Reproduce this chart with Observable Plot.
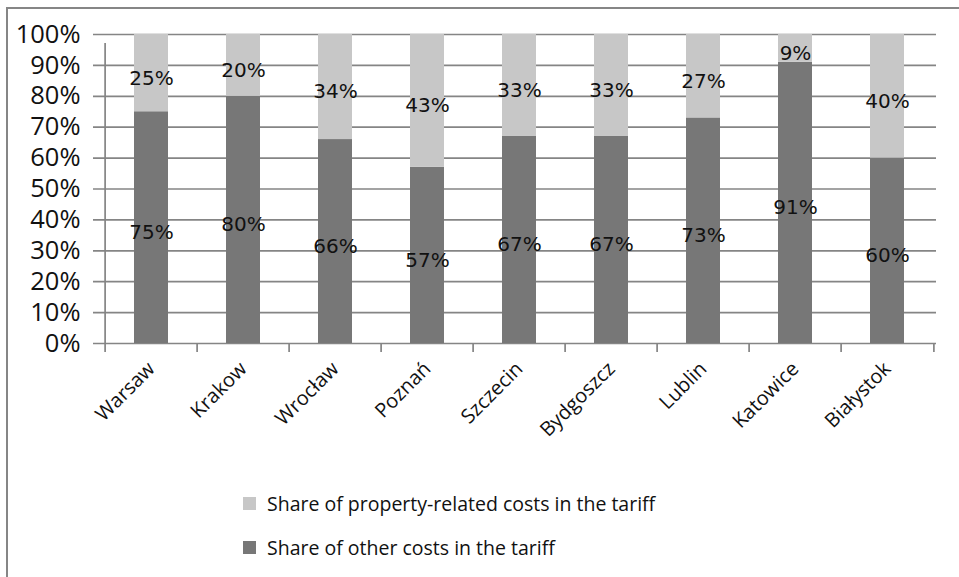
<!DOCTYPE html>
<html>
<head>
<meta charset="utf-8">
<script src="https://cdn.jsdelivr.net/npm/d3@7"></script>
<script src="https://cdn.jsdelivr.net/npm/@observablehq/plot@0.6"></script>
<style>
  body { margin: 0; background: #fff; }
  #page { position: relative; width: 959px; height: 577px; overflow: hidden; font-family: "Open Sans", sans-serif; color: #111; }
  .edge-left { position: absolute; left: 6px; top: 7px; width: 2px; height: 570px; background: #868686; }
  .edge-top { position: absolute; left: 6px; top: 7px; width: 953px; height: 2px; background: #868686; }
  #chart { position: absolute; left: 0; top: 0; }
  #legend { position: absolute; left: 243px; top: 489px; }
  #legend .item { display: flex; align-items: center; height: 28px; margin-bottom: 16px; font-size: 19.5px; white-space: nowrap; }
  #legend .swatch { width: 13px; height: 13px; margin-right: 11px; }
</style>
</head>
<body>
<div id="page">
  <div class="edge-left"></div>
  <div class="edge-top"></div>
  <div id="chart"></div>
  <div id="legend"></div>
</div>
<script>
// Cities and the two cost shares (in percent) of each tariff
const cities = ["Warsaw", "Krakow", "Wrocław", "Poznań", "Szczecin", "Bydgoszcz", "Lublin", "Katowice", "Białystok"];
const otherShare = [75, 80, 66, 57, 67, 67, 73, 91, 60];
const propertyShare = [25, 20, 34, 43, 33, 33, 27, 9, 40];
const yTicks = [0, 10, 20, 30, 40, 50, 60, 70, 80, 90, 100];
const propertyName = "Share of property-related costs in the tariff";
const otherName = "Share of other costs in the tariff";
const seriesColors = { [otherName]: "#777777", [propertyName]: "#c7c7c7" };

// Long table: "other" first so it stacks at the bottom
const rows = cities.flatMap((city, i) => [
  { city, series: otherName, value: otherShare[i] },
  { city, series: propertyName, value: propertyShare[i] }
]);

const W = 959, H = 470, mL = 101, mR = 23, mT = 34, mB = 127;
const step = (W - mL - mR) / cities.length;
const gridColor = "#858585";

const chart = Plot.plot({
  width: W,
  height: H,
  marginLeft: mL,
  marginRight: mR,
  marginTop: mT,
  marginBottom: mB,
  style: { background: "transparent", fontFamily: "Open Sans, sans-serif", color: "#111" },
  x: { type: "band", domain: cities, padding: 0, label: null },
  y: { domain: [0, 100], label: null },
  color: { domain: [otherName, propertyName], range: [seriesColors[otherName], seriesColors[propertyName]] },
  marks: [
    // horizontal gridlines, each poking out left of the axis as a tick
    Plot.ruleY(yTicks, { stroke: gridColor, strokeWidth: 1.7, insetLeft: -8 }),
    // vertical value axis line
    Plot.ruleX([cities[0]], { y1: 0, y2: 100, dx: -step / 2, stroke: gridColor, strokeWidth: 1.7, insetBottom: -9 }),
    // category boundary ticks below the baseline
    Plot.ruleX(cities, { y1: 0, y2: 0, dx: -step / 2, stroke: gridColor, strokeWidth: 1.7, insetBottom: -9 }),
    Plot.ruleX([cities[cities.length - 1]], { y1: 0, y2: 0, dx: step / 2, stroke: gridColor, strokeWidth: 1.7, insetBottom: -9 }),
    // stacked bars
    Plot.barY(rows, { x: "city", y: "value", z: "series", fill: "series", insetLeft: 29, insetRight: 29 }),
    // value labels in the middle of each segment
    Plot.text(rows, Plot.stackY({
      x: "city", y: "value", z: "series",
      text: d => d.value + "%",
      dy: 5, fontSize: 20, fontFamily: "DejaVu Sans, sans-serif", fill: "#111"
    })),
    Plot.axisY({ ticks: yTicks, tickSize: 0, tickPadding: 21, tickFormat: d => d + "%", fontSize: 25.5, fill: "#111" }),
    Plot.axisX({ tickSize: 0, tickRotate: -45, tickPadding: 22, fontSize: 20, fill: "#111" })
  ]
});
document.getElementById("chart").append(chart);

// Legend below the chart
const legend = document.getElementById("legend");
for (const name of [propertyName, otherName]) {
  const item = document.createElement("div");
  item.className = "item";
  const sw = document.createElement("span");
  sw.className = "swatch";
  sw.style.background = seriesColors[name];
  const label = document.createElement("span");
  label.textContent = name;
  item.append(sw, label);
  legend.append(item);
}
</script>
</body>
</html>
